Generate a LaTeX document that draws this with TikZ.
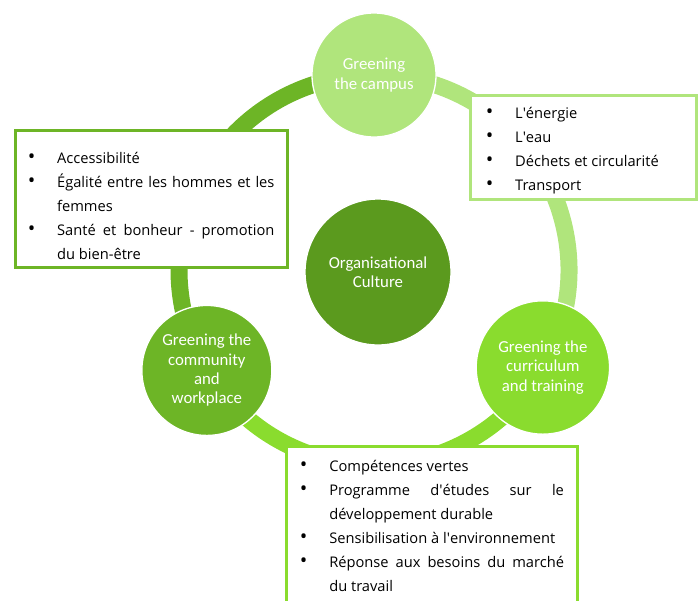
\documentclass[tikz,border=0pt]{standalone}
\usepackage{fontspec}
\setmainfont{Open Sans}
\newfontfamily\cyclefont{Carlito}
\usetikzlibrary{positioning,calc,backgrounds}
\definecolor{cycdark}{HTML}{6DB526}
\definecolor{cycpale}{HTML}{B0E57C}
\definecolor{cyclime}{HTML}{8ADC2E}
\definecolor{cyccore}{HTML}{5B9A1E}

\newcommand{\dotlabel}{\raisebox{-0.05ex}{\fontsize{15}{15}\selectfont\textbullet}}
\newenvironment{dotlist}{\par\nointerlineskip\hyphenpenalty=10000%
  \begin{list}{\dotlabel}{%
  \setlength{\leftmargin}{22pt}\setlength{\labelsep}{0pt}%
  \setlength{\labelwidth}{22pt}\setlength{\itemsep}{0pt}%
  \setlength{\parsep}{0pt}\setlength{\topsep}{0pt}\setlength{\partopsep}{0pt}%
  \renewcommand{\makelabel}[1]{##1\hfil}}}{\end{list}}

\begin{document}
\begin{tikzpicture}[
  x=0.75pt,y=0.75pt,
  hub/.style={circle,draw=white,line width=1pt,inner sep=0pt,text=white,align=center,font=\cyclefont\fontsize{12.6}{14.5}\selectfont},
  infobox/.style={fill=white,line width=2.25pt,anchor=north west,inner ysep=4pt,align=justify,font=\fontsize{11}{18}\selectfont},
  ringarc/.style={line width=12.75pt}
]
  \useasboundingbox (0,0) rectangle (698,-600);
  \coordinate (centre) at (374,-270);

  \node[hub,fill=cycpale,minimum size=93pt] (campus) at ($(centre)+(90:195)$) {Greening\\the campus};
  \node[hub,fill=cycdark,minimum size=97.5pt] (community) at ($(centre)+(211:195)$) {Greening the\\community\\and\\workplace};
  \node[hub,fill=cyclime,minimum size=100pt] (curriculum) at ($(centre)+(330:195)$) {Greening the\\curriculum\\and training};
  \node[hub,fill=cyccore,minimum size=109.5pt] (culture) at (378,-272) {Organisational\\Culture};

  \begin{scope}[on background layer]
    \draw[ringarc,cycdark] (campus.center) arc[start angle=90,end angle=211,radius=195];
    \draw[ringarc,cyclime] (community.center) arc[start angle=211,end angle=330,radius=195];
    \draw[ringarc,cycpale] (curriculum.center) arc[start angle=-30,end angle=90,radius=195];
  \end{scope}

  % lists beside the cycle
  \node[infobox,draw=cycdark,text width=185pt,inner xsep=9.6pt] (communitybox) at (13.5,-129) {%
    \begin{dotlist}
      \item\rule{0pt}{20.4pt}Accessibilité
      \item Égalité entre les hommes et les\linebreak femmes
      \item Santé et bonheur - promotion\linebreak du bien-être\rule[-2pt]{0pt}{0pt}
    \end{dotlist}};
  \node[infobox,draw=cycpale,text width=146.5pt,inner xsep=11.85pt] (campusbox) at (468.5,-94) {%
    \begin{dotlist}
      \item\rule{0pt}{13.3pt}L\textquotesingle énergie
      \item L\textquotesingle eau
      \item Déchets et circularité
      \item Transport
    \end{dotlist}};
  \node[infobox,draw=cyclime,text width=198pt,inner xsep=10.1pt] (curriculumbox) at (285,-444.5) {%
    \begin{dotlist}
      \item\rule{0pt}{15.1pt}Compétences vertes
      \item Programme d\textquotesingle études sur le\linebreak développement durable
      \item Sensibilisation à l\textquotesingle environnement
      \item Réponse aux besoins du marché\linebreak du travail\rule[-6pt]{0pt}{0pt}
    \end{dotlist}};
\end{tikzpicture}
\end{document}
